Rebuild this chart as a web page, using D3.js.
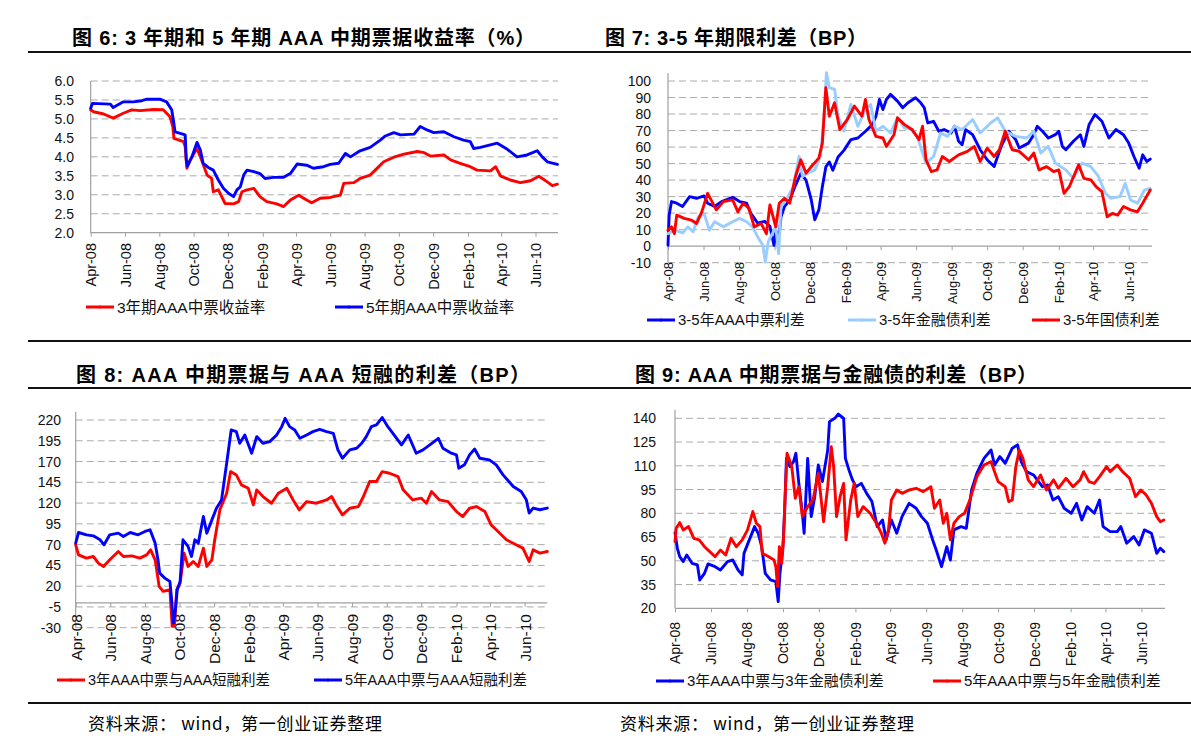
<!DOCTYPE html>
<html><head><meta charset="utf-8">
<script src="https://cdn.jsdelivr.net/npm/d3@7"></script>
<style>
body{margin:0;background:#fff}
svg{display:block}
</style></head>
<body>
<svg id="chart" width="1191" height="755"></svg>
<script>
// ---------------- DATA ----------------
const baseDate = "2008-04-01";   // day 0 of every series
const endDay = 831;              // last day shown on the x axes
const monthTickLabels = ["Apr-08","Jun-08","Aug-08","Oct-08","Dec-08","Feb-09","Apr-09","Jun-09","Aug-09","Oct-09","Dec-09","Feb-10","Apr-10","Jun-10"];

const titles = [
  "图 6:  3 年期和 5 年期 AAA 中期票据收益率（%）",
  "图 7:  3-5 年期限利差（BP）",
  "图 8:  AAA 中期票据与 AAA 短融的利差（BP）",
  "图 9:  AAA 中期票据与金融债的利差（BP）"
];
const sourceNote = "资料来源：  wind，第一创业证券整理";

// Fig 6 : yields (%), [day since 2008-04-01, value]
const fig6Names = ["3年期AAA中票收益率","5年期AAA中票收益率"];
const fig6YTicks = [2.0,2.5,3.0,3.5,4.0,4.5,5.0,5.5,6.0];
const fig6Yield3y = [[0,5.24],[5,5.19],[23,5.13],[40,5.02],[58,5.15],[73,5.24],[88,5.22],[112,5.25],[129,5.24],[141,5.06],[146,4.80],[148,4.49],[165,4.40],[168,4.27],[171,3.70],[177,3.92],[189,4.22],[195,4.00],[207,3.52],[215,3.43],[218,3.08],[227,3.13],[239,2.77],[254,2.76],[263,2.82],[269,3.08],[278,3.13],[290,3.17],[301,2.95],[313,2.82],[331,2.76],[343,2.69],[355,2.86],[370,2.99],[384,2.86],[393,2.79],[408,2.91],[426,2.93],[444,2.99],[450,3.30],[468,3.32],[479,3.43],[497,3.52],[506,3.65],[521,3.87],[539,3.99],[557,4.07],[581,4.14],[593,4.11],[604,4.02],[628,4.05],[640,3.92],[657,3.83],[675,3.74],[687,3.65],[711,3.63],[720,3.74],[729,3.49],[746,3.39],[764,3.32],[782,3.37],[797,3.49],[812,3.34],[821,3.24],[830,3.28]];
const fig6Yield5y = [[0,5.28],[3,5.41],[35,5.39],[40,5.30],[58,5.45],[76,5.45],[91,5.48],[100,5.52],[123,5.52],[135,5.45],[144,5.24],[147,4.97],[150,4.66],[168,4.58],[170,3.92],[172,3.76],[180,4.00],[189,4.38],[195,4.18],[200,3.83],[209,3.72],[218,3.65],[227,3.39],[236,3.17],[245,3.04],[254,2.95],[260,3.13],[266,3.21],[272,3.52],[278,3.65],[290,3.61],[301,3.56],[310,3.43],[325,3.46],[343,3.46],[355,3.56],[367,3.81],[384,3.78],[396,3.70],[414,3.74],[426,3.80],[441,3.83],[453,4.09],[462,4.00],[479,4.16],[497,4.25],[515,4.44],[524,4.55],[539,4.64],[551,4.58],[575,4.60],[586,4.80],[598,4.71],[610,4.64],[628,4.66],[646,4.53],[663,4.44],[675,4.40],[681,4.22],[693,4.25],[723,4.36],[741,4.20],[758,4.00],[776,4.05],[794,4.16],[803,4.00],[812,3.87],[830,3.80]];

// Fig 7 : 3-5y term spreads (BP)
const fig7Names = ["3-5年AAA中票利差","3-5年金融债利差","3-5年国债利差"];
const fig7YTicks = [-10,0,10,20,30,40,50,60,70,80,90,100];
const fig7Mtn = [[0,0.6],[2,18.8],[6,27],[15,26],[25,24],[37,30],[49,29],[62,30.4],[68,26],[80,24],[92,27],[111,29.6],[123,27],[135,26],[142,20],[154,14],[166,15],[175,12],[182,0.5],[185,8.7],[191,7.6],[194,17.8],[200,24],[209,28],[219,37],[228,44],[237,40],[246,28],[252,16],[259,22],[265,36],[271,48],[277,51],[283,46],[292,54],[302,58],[314,64.5],[326,65.5],[339,69.6],[351,73.6],[357,78.7],[363,88.8],[369,82.7],[375,88.8],[382,91.9],[394,87.8],[403,83.8],[412,86.8],[425,89.9],[434,86.8],[440,83.8],[446,74.6],[456,75.6],[465,69.6],[474,70.6],[486,68.5],[492,72.6],[499,63.5],[505,61.4],[511,70.6],[523,67.5],[536,58.4],[548,52.3],[560,48.2],[572,60.4],[585,69.6],[597,64.5],[603,59.4],[619,62.4],[628,67.5],[634,72.6],[643,69.6],[653,65.5],[665,67.5],[671,69.6],[677,60.4],[683,58.4],[696,63.5],[708,67.5],[714,60.4],[723,73.6],[733,79.7],[745,75.6],[757,65.5],[769,70.6],[782,67.5],[791,62.4],[800,54.3],[809,47.2],[815,55.3],[822,51.3],[828,52.7]];
const fig7Fin = [[0,7.6],[12,9.7],[25,8],[34,11.7],[43,8.7],[52,17.8],[62,19.8],[71,9.7],[80,14.8],[95,11.7],[111,14.8],[123,16.8],[135,14.8],[145,11.7],[154,5.6],[163,0.5],[167,-9.6],[172,2.6],[185,11.7],[190,-4.5],[194,24],[203,28],[215,36],[225,54.3],[231,42.2],[240,44.2],[252,46.2],[262,54.3],[268,78.7],[272,105],[277,96],[286,95],[292,78.7],[302,69.6],[314,85.8],[326,72.6],[339,82.7],[348,85.8],[357,69.6],[369,72.6],[382,68.5],[394,77.7],[406,71.6],[419,70.6],[428,66.5],[437,56.4],[443,50.3],[456,54.3],[468,68.5],[480,66.5],[492,72.6],[505,70.6],[523,76.7],[536,68.5],[554,74.6],[566,77.7],[579,69.6],[597,66.5],[616,65.5],[628,69.6],[640,56.4],[653,60.4],[665,50.3],[683,46.2],[696,41.1],[711,50.3],[726,48.2],[739,42.2],[751,32],[760,29],[776,30],[785,38],[794,28],[806,26],[818,34],[828,35]];
const fig7Gov = [[0,9.7],[6,11.7],[11,7.6],[15,18.8],[28,16.8],[40,15.8],[49,13.7],[58,20.8],[68,32],[74,28],[83,22],[95,27],[111,28],[120,20.8],[129,26],[139,22.9],[148,11.7],[160,13.7],[169,7.6],[175,25],[185,11.7],[191,26],[200,29],[209,26],[219,42.2],[228,52.3],[237,44.2],[246,48.2],[259,53.3],[265,62.4],[271,96],[277,78.7],[286,86.8],[295,70.6],[308,76.7],[320,84.8],[333,78.7],[339,88.8],[345,76.7],[357,66.5],[369,65.5],[375,60.4],[388,67.5],[394,77.7],[406,73.6],[419,70.6],[431,64.5],[437,72.6],[443,52.3],[452,45.2],[462,46.2],[471,54.3],[483,51.3],[499,55.3],[514,57.4],[526,60.4],[536,51.3],[548,59.4],[560,54.3],[569,58.4],[579,69.6],[591,58.4],[603,57.4],[619,52.3],[628,56.4],[637,46.2],[650,48.2],[662,45.2],[671,46.2],[680,32],[689,36],[705,49.3],[714,41.1],[726,40.1],[735,36],[745,33],[754,17.8],[763,19.8],[772,18.8],[782,24],[794,22],[806,20.8],[815,26],[828,34]];

// Fig 8 : MTN vs CP spreads (BP)
const fig8Names = ["3年AAA中票与AAA短融利差","5年AAA中票与AAA短融利差"];
const fig8YTicks = [-30,-5,20,45,70,95,120,145,170,195,220];
const fig8Mtn3y = [[0,69.8],[5,57.7],[19,53.7],[31,55.7],[40,47.7],[49,43.7],[60,51.7],[75,61.7],[84,55.7],[99,56.5],[113,53.7],[125,57.7],[132,63.7],[140,51.7],[147,19.7],[154,13.7],[166,15.7],[170,-28.4],[174,-28.4],[178,15.7],[184,23.7],[191,59.7],[198,43.7],[207,49.7],[216,43.7],[225,65.8],[231,43.7],[240,51.7],[245,75.8],[254,111.8],[266,131.9],[273,157.9],[283,153.9],[292,141.9],[304,137.9],[313,117.8],[319,135.9],[330,127.9],[345,119.8],[357,131.9],[372,137.9],[383,123.8],[394,111.8],[407,121.8],[424,119.8],[442,123.8],[451,127.9],[459,117.8],[470,105.8],[483,113.8],[498,115.8],[507,127.9],[518,145.9],[530,145.9],[540,157.9],[553,155.9],[568,151.9],[577,135.9],[594,123.8],[609,125.9],[618,119.8],[627,133.9],[641,123.8],[656,121.8],[671,109.8],[682,103.8],[694,113.8],[706,115.8],[721,109.8],[732,93.8],[741,87.8],[759,75.8],[776,69.8],[788,65.8],[799,49.7],[806,63.7],[818,59.7],[831,61.7]];
const fig8Mtn5y = [[0,71.8],[5,84.6],[19,81.8],[31,80.6],[43,75.8],[50,69.8],[60,81.8],[75,83.8],[84,79.8],[96,84.6],[110,81.8],[122,85.8],[131,87.8],[140,71.8],[145,51.7],[148,35.7],[157,29.7],[166,25.7],[169,3.7],[172,-24.4],[175,-12.4],[179,15.7],[184,25.7],[189,75.8],[198,67.8],[204,55.7],[210,75.8],[216,71.8],[225,103.8],[231,83.8],[240,99.8],[248,113.8],[257,123.8],[266,167.9],[274,208],[283,206],[289,192],[298,202],[310,180],[319,200],[330,192],[342,194],[354,202],[363,212],[369,222],[377,212],[386,208],[395,198],[407,202],[418,206],[430,208.8],[442,206],[454,204],[462,184],[470,174],[483,184],[495,186],[504,192],[512,200],[521,212],[530,214],[540,223],[550,212],[559,204],[574,190],[586,202],[600,180],[612,184],[624,190],[639,198],[647,186],[662,180],[671,178],[675,162],[685,166],[694,178],[703,185],[712,174],[729,172],[741,166],[753,154],[771,140],[785,134],[794,124],[799,108],[806,114],[818,112],[831,114]];

// Fig 9 : MTN vs financial bond spreads (BP)
const fig9Names = ["3年AAA中票与3年金融债利差","5年AAA中票与5年金融债利差"];
const fig9YTicks = [20,35,50,65,80,95,110,125,140];
const fig9Spread3y = [[0,67.8],[4,57.9],[8,52.6],[14,49.5],[20,53.7],[29,48.4],[38,47.4],[42,37.9],[50,42.1],[56,48],[68,46.3],[77,44.2],[89,49.5],[98,50.5],[107,44.2],[114,41.1],[117,54.7],[126,63.2],[135,71.6],[141,67.4],[147,58.9],[153,42.1],[162,37.9],[171,36.8],[175,24.2],[178,42.1],[183,58.9],[186,82.1],[189,114.7],[195,109.5],[201,112.6],[205,117.9],[210,98.9],[216,80],[219,67.4],[225,114.7],[231,77.9],[237,90.5],[243,110.5],[250,100],[259,120],[262,137.9],[271,140],[277,142.7],[286,140],[289,114.7],[295,107.4],[301,101.1],[307,96.8],[316,98.9],[325,92.6],[334,87.4],[343,71.6],[352,75.8],[358,63.2],[367,75.8],[376,67.4],[385,77.9],[397,86.3],[409,83.2],[418,77.9],[428,73.7],[437,63.2],[443,56.8],[452,46.3],[461,58.9],[467,50.5],[473,69.5],[485,71.6],[494,70.5],[503,94.7],[512,105.3],[524,114.7],[536,120],[542,110.5],[551,115.8],[560,111.6],[572,121.1],[581,123.2],[587,112.6],[596,106.3],[608,104.2],[623,96.8],[632,97.9],[641,88.4],[650,90.5],[660,83.2],[672,80],[681,86.3],[690,75.8],[699,84.2],[711,80],[720,88.4],[726,71.6],[738,68.4],[750,68.4],[756,71.6],[766,61.1],[778,65.3],[787,60],[796,69.5],[808,67.4],[817,54.7],[823,57.9],[829,55.8]];
const fig9Spread5y = [[0,62.1],[2,70.5],[8,74.1],[14,69.5],[23,71.6],[32,64.2],[41,63.2],[50,58.9],[59,55.8],[68,52.6],[77,56.8],[86,53.7],[95,64.2],[104,58.9],[114,63.2],[123,69.5],[132,81.1],[138,73.7],[144,71.6],[148,54.7],[159,52.6],[168,50.5],[171,46.3],[174,33.7],[177,58.9],[181,48.4],[184,63.2],[187,92.6],[190,117.9],[198,109.5],[204,89.5],[210,96.8],[216,77.9],[225,84.2],[234,88.4],[243,105.3],[252,74.7],[259,96.8],[265,122.1],[269,109.5],[274,77.9],[280,90.5],[286,98.9],[290,63.2],[298,88.4],[304,98.9],[310,77.9],[319,84.2],[331,80],[340,74.7],[350,67.4],[356,61.1],[362,69.5],[367,88.4],[376,94.7],[385,92.6],[397,94.7],[409,95.8],[421,93.7],[434,96.8],[440,83.2],[449,88.4],[455,73.7],[461,80],[467,63.2],[473,73.7],[482,77.9],[491,80],[500,88.4],[512,103.2],[524,110.5],[536,112.6],[542,106.3],[548,100],[560,96.8],[566,87.4],[572,88.4],[578,109.5],[584,120],[590,114.7],[599,101.1],[608,96.8],[620,104.2],[630,94.7],[642,101.1],[650,95.8],[663,102.1],[675,96.8],[687,101.1],[693,106.3],[702,100],[711,98.9],[720,103.2],[732,109.5],[738,106.3],[750,110.5],[759,106.3],[771,102.1],[781,90.5],[790,94.7],[799,91.6],[808,86.3],[817,77.9],[823,74.7],[829,75.8]];

// ---------------- DRAWING ----------------
const RED = "#ff0000", BLUE = "#0000ff", LIGHT = "#99ccff";
const FONT = "'Liberation Sans', Arial, 'Noto Sans CJK SC', sans-serif";
const svg = d3.select("#chart").attr("font-family", FONT);
const base = d3.timeParse("%Y-%m-%d")(baseDate);
const dayToDate = d => d3.timeDay.offset(base, d);
const tickDates = monthTickLabels.map(d3.timeParse("%b-%y"));
const plainNum = d => String(d);            // ASCII hyphen minus, like the original
const oneDec = d => d.toFixed(1);

// page rules
[52, 341, 388, 703].forEach(yy => svg.append("line")
  .attr("x1", 28).attr("x2", 1191).attr("y1", yy).attr("y2", yy)
  .attr("stroke", "#111").attr("stroke-width", 2));

// titles
const titlePos = [[72, 45, 463], [605, 45, 262], [76, 382, 454], [635, 382, 402]];
titles.forEach((t, i) => svg.append("text")
  .attr("x", titlePos[i][0]).attr("y", titlePos[i][1])
  .attr("textLength", titlePos[i][2]).attr("lengthAdjust", "spacing")
  .attr("font-size", 20).attr("font-weight", "bold").attr("fill", "#000").text(t));

// source notes
[88, 620].forEach(xx => svg.append("text").attr("x", xx).attr("y", 730)
  .attr("font-size", 17).attr("font-family", "'Noto Sans CJK SC', sans-serif")
  .attr("textLength", 294).attr("lengthAdjust", "spacing").attr("fill", "#000").text(sourceNote));

function panel(p) {
  const x = d3.scaleTime().domain([base, dayToDate(endDay)]).range([p.x0, p.x1]);
  const y = d3.scaleLinear().domain([p.yTicks[0], p.yTicks[p.yTicks.length - 1]]).range([p.yBottom, p.yTop]);
  const g = svg.append("g");

  // dashed gridlines
  g.append("g").selectAll("line").data(p.yTicks.filter(v => v !== p.axisAt)).join("line")
    .attr("x1", p.x0).attr("x2", p.x1).attr("y1", d => y(d)).attr("y2", d => y(d))
    .attr("stroke", "#ababab").attr("stroke-width", 1).attr("stroke-dasharray", "7,4");

  // y axis labels
  const ya = g.append("g").attr("transform", `translate(${p.x0},0)`)
    .call(d3.axisLeft(y).tickValues(p.yTicks).tickSize(0).tickPadding(p.x0 - p.yLabelX).tickFormat(p.yFmt));
  ya.select(".domain").remove();
  ya.selectAll("text").attr("font-size", p.yFont).attr("font-family", FONT).attr("fill", "#111");
  g.append("line").attr("x1", p.x0).attr("x2", p.x0).attr("y1", p.axisTop).attr("y2", p.yBottom)
    .attr("stroke", "#a0a0a0").attr("stroke-width", 1.2);

  // x axis
  const axisY = y(p.axisAt);
  const xa = g.append("g").attr("transform", `translate(0,${axisY})`)
    .call(d3.axisBottom(x).tickValues(tickDates).tickSize(4).tickFormat(d3.timeFormat("%b-%y")));
  xa.select(".domain").attr("stroke", "#a0a0a0").attr("stroke-width", 1.2).attr("d", `M${p.x0},0H${p.x1}`);
  xa.selectAll(".tick line").attr("stroke", "#a0a0a0");
  xa.selectAll(".tick text")
    .attr("font-size", p.xFont).attr("font-family", FONT).attr("fill", "#111")
    .attr("text-anchor", "end").attr("x", 0).attr("y", 0).attr("dy", "0.35em")
    .attr("transform", `translate(0,${p.labelTop - axisY}) rotate(-90)`);

  // series
  const line = d3.line().x(d => x(dayToDate(d[0]))).y(d => y(d[1]));
  p.series.forEach(s => g.append("path").datum(s.data)
    .attr("d", line).attr("fill", "none").attr("stroke", s.color)
    .attr("stroke-width", 2.9).attr("stroke-linejoin", "round").attr("stroke-linecap", "round"));

  // legend
  p.legend.forEach(l => {
    const s = p.series.find(ss => ss.name === l.name);
    g.append("line").attr("x1", l.x).attr("x2", l.x + 28).attr("y1", p.legendY).attr("y2", p.legendY)
      .attr("stroke", s.color).attr("stroke-width", 3);
    g.append("circle").attr("cx", l.x + 14).attr("cy", p.legendY).attr("r", 1.6).attr("fill", s.color);
    g.append("text").attr("x", l.x + 31).attr("y", p.legendY).attr("dy", "0.36em")
      .attr("font-size", p.legendFont).attr("fill", "#111").text(l.name);
  });
}

panel({
  x0: 90.7, x1: 558, yBottom: 232.7, yTop: 81, axisTop: 81, axisAt: 2.0,
  yTicks: fig6YTicks, yFmt: oneDec, yLabelX: 74, yFont: 14,
  xFont: 14.5, labelTop: 243,
  series: [{name: fig6Names[0], data: fig6Yield3y, color: RED}, {name: fig6Names[1], data: fig6Yield5y, color: BLUE}],
  legendY: 307, legendFont: 15.5,
  legend: [{name: fig6Names[0], x: 86}, {name: fig6Names[1], x: 335}]
});

panel({
  x0: 668, x1: 1152, yBottom: 262.7, yTop: 81, axisTop: 73, axisAt: 0,
  yTicks: fig7YTicks, yFmt: plainNum, yLabelX: 651, yFont: 14,
  xFont: 13, labelTop: 262,
  series: [{name: fig7Names[0], data: fig7Mtn, color: BLUE}, {name: fig7Names[1], data: fig7Fin, color: LIGHT}, {name: fig7Names[2], data: fig7Gov, color: RED}],
  legendY: 320, legendFont: 15,
  legend: [{name: fig7Names[0], x: 647}, {name: fig7Names[1], x: 848}, {name: fig7Names[2], x: 1032}]
});

panel({
  x0: 75.7, x1: 547.3, yBottom: 627.7, yTop: 420, axisTop: 411.7, axisAt: 0,
  yTicks: fig8YTicks, yFmt: plainNum, yLabelX: 61, yFont: 14,
  xFont: 15.5, labelTop: 614,
  series: [{name: fig8Names[0], data: fig8Mtn3y, color: RED}, {name: fig8Names[1], data: fig8Mtn5y, color: BLUE}],
  legendY: 680, legendFont: 14.5,
  legend: [{name: fig8Names[0], x: 57}, {name: fig8Names[1], x: 314}]
});

panel({
  x0: 675, x1: 1165, yBottom: 608.3, yTop: 418.3, axisTop: 410, axisAt: 20,
  yTicks: fig9YTicks, yFmt: plainNum, yLabelX: 656, yFont: 14,
  xFont: 14, labelTop: 622,
  series: [{name: fig9Names[0], data: fig9Spread3y, color: BLUE}, {name: fig9Names[1], data: fig9Spread5y, color: RED}],
  legendY: 681, legendFont: 15,
  legend: [{name: fig9Names[0], x: 656}, {name: fig9Names[1], x: 933}]
});
</script>
</body></html>
